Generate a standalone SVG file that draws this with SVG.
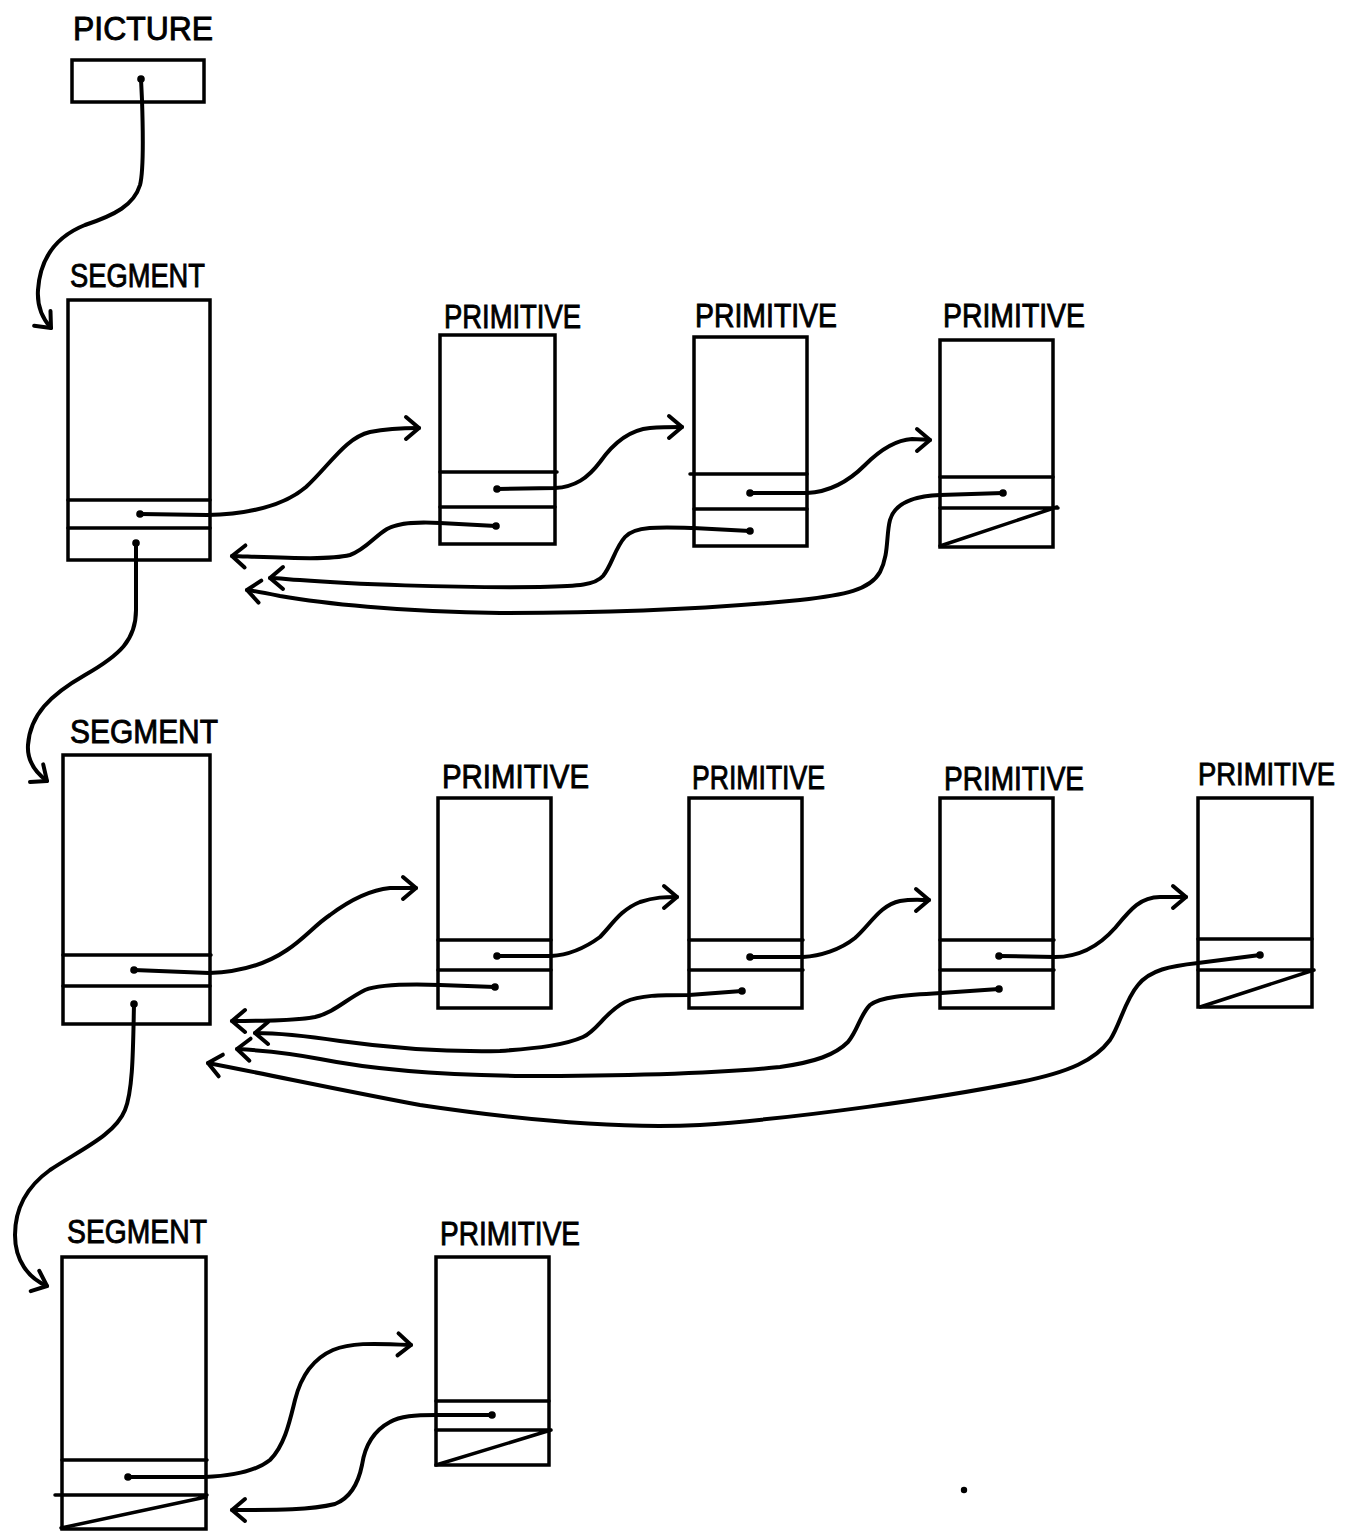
<svg xmlns="http://www.w3.org/2000/svg" width="1359" height="1533" viewBox="0 0 1359 1533">
<style>
.box{fill:none;stroke:#000;stroke-width:3.5;stroke-linecap:round}
.fl{fill:none;stroke:#000;stroke-width:3.5;stroke-linecap:round}
.lbl{font-family:"Liberation Sans",Arial,sans-serif;font-size:33px;fill:#000;stroke:#000;stroke-width:0.9}
.ptr{fill:none;stroke:#000;stroke-width:4;stroke-linecap:round;stroke-linejoin:round;marker-start:url(#dot);marker-end:url(#ah)}
</style>
<defs>
<marker id="ah" markerUnits="userSpaceOnUse" markerWidth="30" markerHeight="30" viewBox="-15 -15 30 30" refX="0" refY="0" orient="auto" overflow="visible">
<path d="M-13,-11 L0,0 L-13,11" fill="none" stroke="#000" stroke-width="4" stroke-linecap="round" stroke-linejoin="round"/>
</marker>
<marker id="dot" markerUnits="userSpaceOnUse" markerWidth="10" markerHeight="10" viewBox="-5 -5 10 10" refX="0" refY="0" overflow="visible">
<circle r="3.8" fill="#000"/>
</marker>
</defs>
<rect width="1359" height="1533" fill="#fff"/>

<g id="picture">
<text class="lbl" x="73" y="40" textLength="140" lengthAdjust="spacingAndGlyphs">PICTURE</text>
<rect class="box" x="72" y="60" width="132" height="42"/>
</g>

<g id="segment1">
<text class="lbl" x="70" y="287" textLength="135" lengthAdjust="spacingAndGlyphs">SEGMENT</text>
<rect class="box" x="68" y="300" width="142" height="260"/>
<path class="fl" d="M68,500 L210,500 M68,528 L210,528"/>
</g>

<g id="r1prim1">
<text class="lbl" x="444" y="328" textLength="137" lengthAdjust="spacingAndGlyphs">PRIMITIVE</text>
<rect class="box" x="440" y="335" width="115" height="209"/>
<path class="fl" d="M440,472 L557,472 M440,507 L555,507"/>
</g>

<g id="r1prim2">
<text class="lbl" x="695" y="327" textLength="142" lengthAdjust="spacingAndGlyphs">PRIMITIVE</text>
<rect class="box" x="694" y="337" width="113" height="209"/>
<path class="fl" d="M690,474 L807,474 M694,509 L807,509"/>
</g>

<g id="r1prim3">
<text class="lbl" x="943" y="327" textLength="142" lengthAdjust="spacingAndGlyphs">PRIMITIVE</text>
<rect class="box" x="940" y="340" width="113" height="207"/>
<path class="fl" d="M940,477 L1053,477 M940,508 L1058,508 M940,546 L1057,507"/>
</g>

<g id="segment2">
<text class="lbl" x="70" y="743" textLength="148" lengthAdjust="spacingAndGlyphs">SEGMENT</text>
<rect class="box" x="63" y="755" width="147" height="269"/>
<path class="fl" d="M63,955 L211,955 M63,986 L210,986"/>
</g>

<g id="r2prim1">
<text class="lbl" x="442" y="788" textLength="147" lengthAdjust="spacingAndGlyphs">PRIMITIVE</text>
<rect class="box" x="438" y="798" width="113" height="210"/>
<path class="fl" d="M438,940 L551,940 M438,970 L551,970"/>
</g>

<g id="r2prim2">
<text class="lbl" x="692" y="789" textLength="133" lengthAdjust="spacingAndGlyphs">PRIMITIVE</text>
<rect class="box" x="689" y="798" width="113" height="210"/>
<path class="fl" d="M689,940 L803,940 M689,970 L803,970"/>
</g>

<g id="r2prim3">
<text class="lbl" x="944" y="790" textLength="140" lengthAdjust="spacingAndGlyphs">PRIMITIVE</text>
<rect class="box" x="940" y="798" width="113" height="210"/>
<path class="fl" d="M940,940 L1054,940 M940,970 L1054,970"/>
</g>

<g id="r2prim4">
<text class="lbl" x="1198" y="785" style="font-size:30.5px" textLength="137" lengthAdjust="spacingAndGlyphs">PRIMITIVE</text>
<rect class="box" x="1198" y="798" width="114" height="209"/>
<path class="fl" d="M1198,939 L1312,939 M1198,970 L1314,970 M1200,1007 L1314,970"/>
</g>

<g id="segment3">
<text class="lbl" x="67" y="1243" textLength="140" lengthAdjust="spacingAndGlyphs">SEGMENT</text>
<rect class="box" x="62" y="1257" width="144" height="272"/>
<path class="fl" d="M62,1460 L207,1460 M55,1495 L207,1495 M61,1528 L206,1497"/>
</g>

<g id="r3prim1">
<text class="lbl" x="440" y="1245" textLength="140" lengthAdjust="spacingAndGlyphs">PRIMITIVE</text>
<rect class="box" x="436" y="1257" width="113" height="208"/>
<path class="fl" d="M436,1401 L549,1401 M436,1430 L551,1430 M436,1465 L551,1430"/>
</g>

<g id="connectors">
<path class="ptr" d="M141,79 L142,100 C143,130 144,170 140,185 C134,205 115,215 85,225 C55,237 40,260 38,290 C37,305 42,318 51,328"/>
<path class="ptr" d="M136,543 L136,610 C136,640 120,655 85,675 C50,695 30,715 28,745 C27,760 35,772 47,781"/>
<path class="ptr" d="M134,1004 C133,1050 133,1090 125,1110 C115,1135 80,1150 50,1170 C25,1188 15,1210 15,1235 C15,1260 28,1278 47,1286"/>

<path class="ptr" d="M140,514 L207,515 C250,514 285,505 306,487 C330,465 345,438 370,432 C390,428 405,428 419,428"/>
<path class="ptr" d="M497,489 L555,488 C575,487 588,478 600,462 C612,445 628,430 650,428 C662,427 672,427 682,427"/>
<path class="ptr" d="M750,493 L807,493 C830,492 848,482 865,465 C880,450 895,440 912,439 C920,439 925,440 930,440"/>

<path class="ptr" d="M496,526 L440,523 C420,522 400,522 387,529 C375,536 365,550 350,555 C330,560 290,558 232,556"/>
<path class="ptr" d="M750,531 L693,528 C660,527 635,526 625,537 C615,548 612,565 603,576 C595,585 580,586 540,587 C450,588 350,584 300,580 C285,579 278,578 270,578"/>
<path class="ptr" d="M1003,493 L940,495 C915,496 895,502 890,520 C886,535 889,555 880,572 C870,590 845,595 800,600 C720,608 620,613 500,613 C400,612 320,603 280,596 C265,593 255,591 247,590"/>

<path class="ptr" d="M134,970 L209,973 C240,972 265,965 287,950 C305,938 315,925 330,915 C350,900 370,890 390,888 C400,888 408,888 416,888"/>
<path class="ptr" d="M497,956 L551,956 C570,955 585,948 600,937 C612,925 620,910 640,902 C655,897 665,897 677,897"/>
<path class="ptr" d="M750,957 L803,957 C820,956 840,950 855,938 C870,925 880,905 900,901 C912,899 920,900 929,900"/>
<path class="ptr" d="M999,956 L1055,957 C1080,957 1100,945 1115,928 C1130,910 1140,897 1160,897 C1172,897 1180,897 1186,897"/>

<path class="ptr" d="M495,987 L440,985 C410,984 380,984 365,990 C345,1000 335,1012 315,1017 C295,1021 260,1021 232,1021"/>
<path class="ptr" d="M742,991 L689,995 C660,995 640,995 625,1002 C605,1012 598,1030 583,1037 C565,1045 540,1048 500,1051 C450,1052 390,1048 340,1041 C300,1035 275,1033 255,1033"/>
<path class="ptr" d="M999,989 L941,993 C905,995 880,997 870,1005 C860,1015 858,1030 848,1042 C835,1055 815,1062 780,1067 C720,1073 640,1076 523,1076 C440,1075 370,1069 320,1059 C285,1052 255,1050 237,1049"/>
<path class="ptr" d="M1260,955 L1198,963 C1170,966 1150,970 1138,985 C1125,1000 1120,1025 1110,1040 C1095,1060 1070,1072 1020,1082 C940,1098 800,1118 700,1125 C620,1129 520,1120 420,1105 C340,1090 280,1077 208,1063"/>

<path class="ptr" d="M128,1477 L205,1477 C230,1476 255,1472 270,1460 C285,1445 290,1420 295,1400 C300,1380 310,1360 333,1350 C350,1343 370,1343 411,1345"/>
<path class="ptr" d="M492,1415 L436,1415 C415,1415 400,1416 390,1422 C375,1430 365,1445 362,1465 C358,1485 350,1498 335,1504 C310,1510 280,1510 232,1510"/>
</g>
<circle cx="964" cy="1490" r="3.2" fill="#000"/>
</svg>
